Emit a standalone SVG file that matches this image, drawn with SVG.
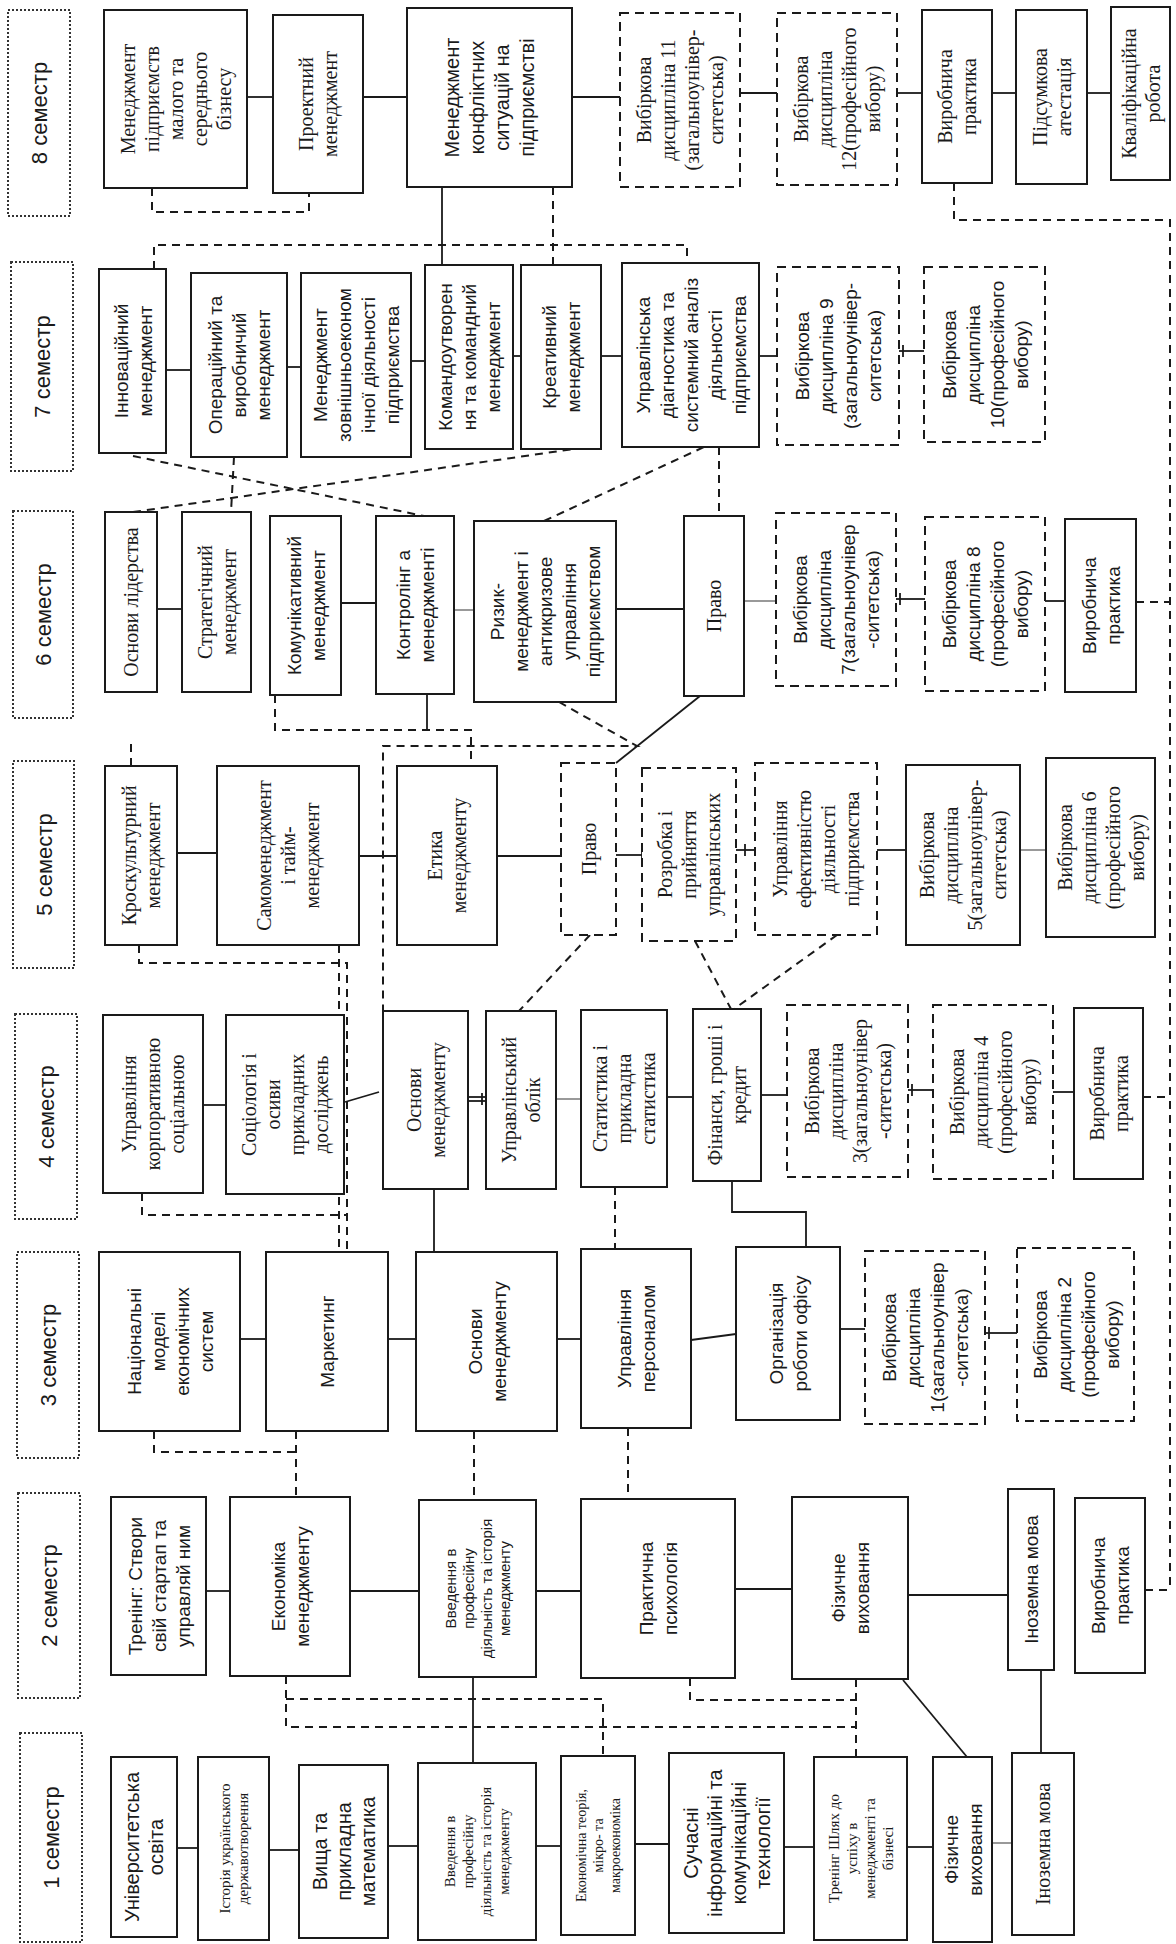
<svg xmlns="http://www.w3.org/2000/svg" width="1176" height="1944" viewBox="0 0 1176 1944">
<style>
.bg{fill:#fff}
.b{fill:#fff;stroke:#1a1a1a;stroke-width:2}
.d{fill:#fff;stroke:#1a1a1a;stroke-width:2;stroke-dasharray:9 6}
.h{fill:#fff;stroke:#333;stroke-width:2;stroke-dasharray:2 2}
.s{font-family:"Liberation Serif","Times New Roman",serif;font-size:20px;fill:#1a1a1a;text-anchor:middle}
.a{font-family:"Liberation Sans",Arial,sans-serif;font-size:19px;fill:#1a1a1a;text-anchor:middle}
.ht{font-family:"Liberation Sans",Arial,sans-serif;font-size:22px;fill:#1a1a1a;text-anchor:middle}
.c{fill:none;stroke:#1a1a1a;stroke-width:1.8}
.cg{fill:none;stroke:#777;stroke-width:1.5}
.cd{fill:none;stroke:#1a1a1a;stroke-width:2;stroke-dasharray:8 6}
</style>
<rect class="bg" x="0" y="0" width="1176" height="1944"/>

<g id="connectors">
<!-- semester 8 -->
<line class="c" x1="247" y1="97" x2="273" y2="97"/>
<line class="c" x1="363" y1="97" x2="407" y2="97"/>
<line class="c" x1="572" y1="97" x2="620" y2="97"/>
<line class="c" x1="740" y1="93" x2="777" y2="93"/>
<line class="c" x1="897" y1="93" x2="922" y2="93"/>
<line class="c" x1="992" y1="93" x2="1016" y2="93"/>
<line class="c" x1="1087" y1="93" x2="1111" y2="93"/>
<line class="c" x1="442" y1="187" x2="442" y2="265"/>
<polyline class="cd" points="152,188 152,212 309,212 309,193"/>
<line class="cd" x1="553" y1="187" x2="553" y2="265"/>
<polyline class="cd" points="154,269 154,245 687,245 687,263"/>
<polyline class="cd" points="954,183 954,220 1170,220 1170,1590"/>
<!-- semester 7 -->
<line class="c" x1="166" y1="370" x2="191" y2="370"/>
<line class="c" x1="287" y1="367" x2="301" y2="367"/>
<line class="c" x1="411" y1="361" x2="425" y2="361"/>
<line class="c" x1="513" y1="356" x2="521" y2="356"/>
<line class="c" x1="601" y1="356" x2="622" y2="356"/>
<line class="c" x1="759" y1="356" x2="777" y2="356"/>
<line class="c" x1="899" y1="351" x2="924" y2="351"/>
<line class="c" x1="903" y1="345" x2="903" y2="357"/>
<line class="cd" x1="133" y1="456" x2="424" y2="516"/>
<line class="cd" x1="133" y1="512" x2="574" y2="449"/>
<line class="cd" x1="234" y1="457" x2="231" y2="512"/>
<line class="cd" x1="544" y1="521" x2="704" y2="447"/>
<line class="cd" x1="719" y1="447" x2="719" y2="516"/>
<!-- semester 6 -->
<line class="c" x1="157" y1="609" x2="182" y2="609"/>
<line class="c" x1="341" y1="603" x2="376" y2="603"/>
<line class="cg" x1="454" y1="610" x2="474" y2="610"/>
<line class="c" x1="616" y1="609" x2="684" y2="609"/>
<line class="cg" x1="744" y1="601" x2="776" y2="601"/>
<line class="c" x1="896" y1="599" x2="925" y2="599"/>
<line class="c" x1="900" y1="593" x2="900" y2="605"/>
<line class="c" x1="1045" y1="601" x2="1065" y2="601"/>
<line class="cd" x1="1136" y1="602" x2="1170" y2="602"/>
<line class="c" x1="427" y1="695" x2="427" y2="730"/>
<line class="c" x1="700" y1="696" x2="616" y2="763"/>
<polyline class="cd" points="275,695 275,730 471,730 471,766"/>
<polyline class="cd" points="559,702 637,746 383,746 383,1011"/>
<line class="cd" x1="131" y1="766" x2="131" y2="742"/>
<!-- semester 5 -->
<line class="c" x1="177" y1="853" x2="217" y2="853"/>
<line class="c" x1="359" y1="856" x2="397" y2="856"/>
<line class="c" x1="497" y1="856" x2="561" y2="856"/>
<line class="c" x1="616" y1="855" x2="642" y2="855"/>
<line class="c" x1="642" y1="849" x2="642" y2="861"/>
<line class="c" x1="736" y1="850" x2="755" y2="850"/>
<line class="c" x1="745" y1="844" x2="745" y2="856"/>
<line class="c" x1="877" y1="850" x2="906" y2="850"/>
<line class="cg" x1="1020" y1="850" x2="1046" y2="850"/>
<polyline class="cd" points="139,945 139,963 347,963 347,1252"/>
<line class="cd" x1="339" y1="945" x2="339" y2="1252"/>
<polyline class="cd" points="142,1193 142,1215 347,1215"/>
<line class="cd" x1="590" y1="935" x2="519" y2="1011"/>
<line class="cd" x1="695" y1="941" x2="731" y2="1009"/>
<line class="cd" x1="837" y1="935" x2="734" y2="1009"/>
<!-- semester 4 -->
<line class="c" x1="203" y1="1105" x2="226" y2="1105"/>
<line class="c" x1="468" y1="1097" x2="486" y2="1097"/>
<line class="c" x1="468" y1="1101" x2="486" y2="1101"/>
<line class="c" x1="482" y1="1093" x2="482" y2="1105"/>
<line class="cg" x1="556" y1="1099" x2="581" y2="1099"/>
<line class="c" x1="667" y1="1097" x2="693" y2="1097"/>
<line class="c" x1="761" y1="1095" x2="787" y2="1095"/>
<line class="c" x1="908" y1="1090" x2="933" y2="1090"/>
<line class="c" x1="912" y1="1084" x2="912" y2="1096"/>
<line class="c" x1="1053" y1="1092" x2="1074" y2="1092"/>
<line class="cd" x1="1143" y1="1097" x2="1170" y2="1097"/>
<line class="c" x1="379" y1="1092" x2="345" y2="1102"/>
<line class="c" x1="434" y1="1189" x2="434" y2="1252"/>
<polyline class="c" points="732,1181 732,1212 806,1212 806,1247"/>
<line class="cd" x1="615" y1="1187" x2="615" y2="1249"/>
<!-- semester 3 -->
<line class="c" x1="240" y1="1339" x2="266" y2="1339"/>
<line class="c" x1="388" y1="1339" x2="416" y2="1339"/>
<line class="c" x1="557" y1="1339" x2="581" y2="1339"/>
<line class="c" x1="691" y1="1340" x2="736" y2="1334"/>
<line class="c" x1="840" y1="1329" x2="865" y2="1329"/>
<line class="c" x1="985" y1="1333" x2="1017" y2="1333"/>
<line class="c" x1="989" y1="1327" x2="989" y2="1339"/>
<polyline class="cd" points="154,1431 154,1452 296,1452"/>
<line class="cd" x1="296" y1="1431" x2="296" y2="1497"/>
<line class="cd" x1="474" y1="1431" x2="474" y2="1500"/>
<line class="cd" x1="628" y1="1428" x2="628" y2="1499"/>
<!-- semester 2 -->
<line class="c" x1="206" y1="1591" x2="230" y2="1591"/>
<line class="c" x1="350" y1="1591" x2="419" y2="1591"/>
<line class="c" x1="536" y1="1591" x2="581" y2="1591"/>
<line class="c" x1="735" y1="1589" x2="792" y2="1589"/>
<line class="c" x1="908" y1="1595" x2="1008" y2="1595"/>
<line class="cd" x1="1145" y1="1590" x2="1170" y2="1590"/>
<line class="c" x1="473" y1="1677" x2="473" y2="1763"/>
<line class="c" x1="903" y1="1680" x2="967" y2="1757"/>
<line class="c" x1="1041" y1="1670" x2="1041" y2="1753"/>
<polyline class="cd" points="286,1676 286,1727 856,1727"/>
<polyline class="cd" points="286,1699 603,1699 603,1756"/>
<polyline class="cd" points="690,1678 690,1700 856,1700"/>
<line class="cd" x1="856" y1="1679" x2="856" y2="1757"/>
<!-- semester 1 -->
<line class="c" x1="177" y1="1848" x2="198" y2="1848"/>
<line class="c" x1="269" y1="1850" x2="299" y2="1850"/>
<line class="c" x1="388" y1="1846" x2="418" y2="1846"/>
<line class="c" x1="536" y1="1846" x2="561" y2="1846"/>
<line class="c" x1="635" y1="1844" x2="669" y2="1844"/>
<line class="c" x1="784" y1="1847" x2="814" y2="1847"/>
<line class="c" x1="907" y1="1847" x2="933" y2="1847"/>
<line class="cg" x1="992" y1="1843" x2="1012" y2="1843"/>
</g>

<!-- semester headers -->
<g id="h8"><rect class="h" x="8" y="10" width="62" height="206"/><text class="ht" transform="translate(39 113) rotate(-90)" dy="8">8 семестр</text></g>
<g id="h7"><rect class="h" x="11" y="262" width="62" height="209"/><text class="ht" transform="translate(42 366.5) rotate(-90)" dy="8">7 семестр</text></g>
<g id="h6"><rect class="h" x="13" y="511" width="60" height="207"/><text class="ht" transform="translate(43 614.5) rotate(-90)" dy="8">6 семестр</text></g>
<g id="h5"><rect class="h" x="13" y="761" width="61" height="207"/><text class="ht" transform="translate(43.5 864.5) rotate(-90)" dy="8">5 семестр</text></g>
<g id="h4"><rect class="h" x="15" y="1014" width="62" height="205"/><text class="ht" transform="translate(46 1116.5) rotate(-90)" dy="8">4 семестр</text></g>
<g id="h3"><rect class="h" x="17" y="1252" width="62" height="206"/><text class="ht" transform="translate(48 1355) rotate(-90)" dy="8">3 семестр</text></g>
<g id="h2"><rect class="h" x="18" y="1493" width="62" height="205"/><text class="ht" transform="translate(49 1595.5) rotate(-90)" dy="8">2 семестр</text></g>
<g id="h1"><rect class="h" x="20" y="1733" width="62" height="209"/><text class="ht" transform="translate(51 1837.5) rotate(-90)" dy="8">1 семестр</text></g>

<!-- semester 8 -->
<g id="n8_1"><rect class="b" x="104" y="10" width="143" height="178"/><text class="s" transform="translate(175.5 99) rotate(-90)"><tspan x="0" dy="-41">Менеджмент</tspan><tspan x="0" dy="24">підприємств</tspan><tspan x="0" dy="24">малого та</tspan><tspan x="0" dy="24">середнього</tspan><tspan x="0" dy="24">бізнесу</tspan></text></g>
<g id="n8_2"><rect class="b" x="273" y="15" width="90" height="178"/><text class="s" transform="translate(318 104) rotate(-90)"><tspan x="0" dy="-5">Проектний</tspan><tspan x="0" dy="24">менеджмент</tspan></text></g>
<g id="n8_3"><rect class="b" x="407" y="8" width="165" height="179"/><text class="a" style="font-size:20px" transform="translate(489.5 97.5) rotate(-90)"><tspan x="0" dy="-31">Менеджмент</tspan><tspan x="0" dy="25">конфліктних</tspan><tspan x="0" dy="25">ситуацій на</tspan><tspan x="0" dy="25">підприємстві</tspan></text></g>
<g id="n8_4"><rect class="d" x="620" y="13" width="120" height="174"/><text class="s" transform="translate(680 100) rotate(-90)"><tspan x="0" dy="-29">Вибіркова</tspan><tspan x="0" dy="24">дисципліна 11</tspan><tspan x="0" dy="24">(загальноунівер-</tspan><tspan x="0" dy="24">ситетська)</tspan></text></g>
<g id="n8_5"><rect class="d" x="777" y="13" width="120" height="172"/><text class="s" transform="translate(837 99) rotate(-90)"><tspan x="0" dy="-29">Вибіркова</tspan><tspan x="0" dy="24">дисципліна</tspan><tspan x="0" dy="24">12(професійного</tspan><tspan x="0" dy="24">вибору)</tspan></text></g>
<g id="n8_6"><rect class="b" x="922" y="10" width="70" height="173"/><text class="s" transform="translate(957 96.5) rotate(-90)"><tspan x="0" dy="-5">Виробнича</tspan><tspan x="0" dy="24">практика</tspan></text></g>
<g id="n8_7"><rect class="b" x="1016" y="10" width="71" height="174"/><text class="s" transform="translate(1051.5 97) rotate(-90)"><tspan x="0" dy="-5">Підсумкова</tspan><tspan x="0" dy="24">атестація</tspan></text></g>
<g id="n8_8"><rect class="b" x="1111" y="7" width="59" height="173"/><text class="s" transform="translate(1140.5 93.5) rotate(-90)"><tspan x="0" dy="-5">Кваліфікаційна</tspan><tspan x="0" dy="24">робота</tspan></text></g>

<!-- semester 7 -->
<g id="n7_1"><rect class="b" x="99" y="269" width="67" height="184"/><text class="a" transform="translate(132.5 361) rotate(-90)"><tspan x="0" dy="-5">Інноваційний</tspan><tspan x="0" dy="24">менеджмент</tspan></text></g>
<g id="n7_2"><rect class="b" x="191" y="273" width="96" height="184"/><text class="a" transform="translate(239 365) rotate(-90)"><tspan x="0" dy="-17">Операційний та</tspan><tspan x="0" dy="24">виробничий</tspan><tspan x="0" dy="24">менеджмент</tspan></text></g>
<g id="n7_3"><rect class="b" x="301" y="273" width="110" height="184"/><text class="a" transform="translate(356 365) rotate(-90)"><tspan x="0" dy="-29">Менеджмент</tspan><tspan x="0" dy="24">зовнішньоеконом</tspan><tspan x="0" dy="24">ічної діяльності</tspan><tspan x="0" dy="24">підприємства</tspan></text></g>
<g id="n7_4"><rect class="b" x="425" y="265" width="88" height="184"/><text class="a" transform="translate(469 357) rotate(-90)"><tspan x="0" dy="-17">Командоутворен</tspan><tspan x="0" dy="24">ня та командний</tspan><tspan x="0" dy="24">менеджмент</tspan></text></g>
<g id="n7_5"><rect class="b" x="521" y="265" width="80" height="184"/><text class="a" transform="translate(561 357) rotate(-90)"><tspan x="0" dy="-5">Креативний</tspan><tspan x="0" dy="24">менеджмент</tspan></text></g>
<g id="n7_6"><rect class="b" x="622" y="263" width="137" height="184"/><text class="a" transform="translate(690.5 355) rotate(-90)"><tspan x="0" dy="-41">Управлінська</tspan><tspan x="0" dy="24">діагностика та</tspan><tspan x="0" dy="24">системний аналіз</tspan><tspan x="0" dy="24">діяльності</tspan><tspan x="0" dy="24">підприємства</tspan></text></g>
<g id="n7_7"><rect class="d" x="777" y="267" width="122" height="178"/><text class="a" transform="translate(838 356) rotate(-90)"><tspan x="0" dy="-29">Вибіркова</tspan><tspan x="0" dy="24">дисципліна 9</tspan><tspan x="0" dy="24">(загальноунівер-</tspan><tspan x="0" dy="24">ситетська)</tspan></text></g>
<g id="n7_8"><rect class="d" x="924" y="267" width="121" height="175"/><text class="a" transform="translate(984.5 354.5) rotate(-90)"><tspan x="0" dy="-29">Вибіркова</tspan><tspan x="0" dy="24">дисципліна</tspan><tspan x="0" dy="24">10(професійного</tspan><tspan x="0" dy="24">вибору)</tspan></text></g>

<!-- semester 6 -->
<g id="n6_1"><rect class="b" x="105" y="512" width="52" height="180"/><text class="s" transform="translate(131 602) rotate(-90)" dy="7">Основи лідерства</text></g>
<g id="n6_2"><rect class="b" x="182" y="512" width="69" height="180"/><text class="s" transform="translate(216.5 602) rotate(-90)"><tspan x="0" dy="-5">Стратегічний</tspan><tspan x="0" dy="24">менеджмент</tspan></text></g>
<g id="n6_3"><rect class="b" x="270" y="516" width="71" height="179"/><text class="a" transform="translate(305.5 605.5) rotate(-90)"><tspan x="0" dy="-5">Комунікативний</tspan><tspan x="0" dy="24">менеджмент</tspan></text></g>
<g id="n6_4"><rect class="b" x="376" y="516" width="78" height="178"/><text class="a" transform="translate(415 605) rotate(-90)"><tspan x="0" dy="-5">Контролінг а</tspan><tspan x="0" dy="24">менеджменті</tspan></text></g>
<g id="n6_5"><rect class="b" x="474" y="521" width="142" height="181"/><text class="a" transform="translate(545 611.5) rotate(-90)"><tspan x="0" dy="-41">Ризик-</tspan><tspan x="0" dy="24">менеджмент і</tspan><tspan x="0" dy="24">антикризове</tspan><tspan x="0" dy="24">управління</tspan><tspan x="0" dy="24">підприємством</tspan></text></g>
<g id="n6_6"><rect class="b" x="684" y="516" width="60" height="180"/><text class="s" transform="translate(714 606) rotate(-90)" dy="7">Право</text></g>
<g id="n6_7"><rect class="d" x="776" y="513" width="120" height="173"/><text class="a" transform="translate(836 599.5) rotate(-90)"><tspan x="0" dy="-29">Вибіркова</tspan><tspan x="0" dy="24">дисципліна</tspan><tspan x="0" dy="24">7(загальноунівер</tspan><tspan x="0" dy="24">-ситетська)</tspan></text></g>
<g id="n6_8"><rect class="d" x="925" y="517" width="120" height="174"/><text class="a" transform="translate(985 604) rotate(-90)"><tspan x="0" dy="-29">Вибіркова</tspan><tspan x="0" dy="24">дисципліна 8</tspan><tspan x="0" dy="24">(професійного</tspan><tspan x="0" dy="24">вибору)</tspan></text></g>
<g id="n6_9"><rect class="b" x="1065" y="519" width="71" height="173"/><text class="a" transform="translate(1100.5 605.5) rotate(-90)"><tspan x="0" dy="-5">Виробнича</tspan><tspan x="0" dy="24">практика</tspan></text></g>

<!-- semester 5 -->
<g id="n5_1"><rect class="b" x="105" y="766" width="72" height="179"/><text class="s" transform="translate(141 855.5) rotate(-90)"><tspan x="0" dy="-5">Кроскультурний</tspan><tspan x="0" dy="24">менеджмент</tspan></text></g>
<g id="n5_2"><rect class="b" x="217" y="766" width="142" height="179"/><text class="s" transform="translate(288 855.5) rotate(-90)"><tspan x="0" dy="-17">Самоменеджмент</tspan><tspan x="0" dy="24">і тайм-</tspan><tspan x="0" dy="24">менеджмент</tspan></text></g>
<g id="n5_3"><rect class="b" x="397" y="766" width="100" height="179"/><text class="s" transform="translate(447 855.5) rotate(-90)"><tspan x="0" dy="-5">Етика</tspan><tspan x="0" dy="24">менеджменту</tspan></text></g>
<g id="n5_4"><rect class="d" x="561" y="763" width="55" height="172"/><text class="s" transform="translate(588.5 849) rotate(-90)" dy="7">Право</text></g>
<g id="n5_5"><rect class="d" x="642" y="768" width="94" height="173"/><text class="s" transform="translate(689 854.5) rotate(-90)"><tspan x="0" dy="-17">Розробка і</tspan><tspan x="0" dy="24">прийняття</tspan><tspan x="0" dy="24">управлінських</tspan></text></g>
<g id="n5_6"><rect class="d" x="755" y="763" width="122" height="172"/><text class="s" transform="translate(816 849) rotate(-90)"><tspan x="0" dy="-29">Управління</tspan><tspan x="0" dy="24">ефективністю</tspan><tspan x="0" dy="24">діяльності</tspan><tspan x="0" dy="24">підприємства</tspan></text></g>
<g id="n5_7"><rect class="b" x="906" y="765" width="114" height="180"/><text class="s" transform="translate(963 855) rotate(-90)"><tspan x="0" dy="-29">Вибіркова</tspan><tspan x="0" dy="24">дисципліна</tspan><tspan x="0" dy="24">5(загальноунівер-</tspan><tspan x="0" dy="24">ситетська)</tspan></text></g>
<g id="n5_8"><rect class="b" x="1046" y="758" width="109" height="179"/><text class="s" transform="translate(1100.5 847.5) rotate(-90)"><tspan x="0" dy="-29">Вибіркова</tspan><tspan x="0" dy="24">дисципліна 6</tspan><tspan x="0" dy="24">(професійного</tspan><tspan x="0" dy="24">вибору)</tspan></text></g>

<!-- semester 4 -->
<g id="n4_1"><rect class="b" x="103" y="1015" width="100" height="178"/><text class="s" transform="translate(153 1104) rotate(-90)"><tspan x="0" dy="-17">Управління</tspan><tspan x="0" dy="24">корпоративною</tspan><tspan x="0" dy="24">соціальною</tspan></text></g>
<g id="n4_2"><rect class="b" x="226" y="1015" width="118" height="179"/><text class="s" transform="translate(285 1104.5) rotate(-90)"><tspan x="0" dy="-29">Соціологія і</tspan><tspan x="0" dy="24">осиви</tspan><tspan x="0" dy="24">прикладних</tspan><tspan x="0" dy="24">досліджень</tspan></text></g>
<g id="n4_3"><rect class="b" x="383" y="1011" width="85" height="178"/><text class="s" transform="translate(425.5 1100) rotate(-90)"><tspan x="0" dy="-5">Основи</tspan><tspan x="0" dy="24">менеджменту</tspan></text></g>
<g id="n4_4"><rect class="b" x="486" y="1011" width="70" height="178"/><text class="s" transform="translate(521 1100) rotate(-90)"><tspan x="0" dy="-5">Управлінський</tspan><tspan x="0" dy="24">облік</tspan></text></g>
<g id="n4_5"><rect class="b" x="581" y="1010" width="86" height="177"/><text class="s" transform="translate(624 1098.5) rotate(-90)"><tspan x="0" dy="-17">Статистика і</tspan><tspan x="0" dy="24">прикладна</tspan><tspan x="0" dy="24">статистика</tspan></text></g>
<g id="n4_6"><rect class="b" x="693" y="1009" width="68" height="172"/><text class="s" transform="translate(727 1095) rotate(-90)"><tspan x="0" dy="-5">Фінанси, гроші і</tspan><tspan x="0" dy="24">кредит</tspan></text></g>
<g id="n4_7"><rect class="d" x="787" y="1005" width="121" height="172"/><text class="s" transform="translate(847.5 1091) rotate(-90)"><tspan x="0" dy="-29">Вибіркова</tspan><tspan x="0" dy="24">дисципліна</tspan><tspan x="0" dy="24">3(загальноунівер</tspan><tspan x="0" dy="24">-ситетська)</tspan></text></g>
<g id="n4_8"><rect class="d" x="933" y="1005" width="120" height="174"/><text class="s" transform="translate(993 1092) rotate(-90)"><tspan x="0" dy="-29">Вибіркова</tspan><tspan x="0" dy="24">дисципліна 4</tspan><tspan x="0" dy="24">(професійного</tspan><tspan x="0" dy="24">вибору)</tspan></text></g>
<g id="n4_9"><rect class="b" x="1074" y="1008" width="69" height="171"/><text class="s" transform="translate(1108.5 1093.5) rotate(-90)"><tspan x="0" dy="-5">Виробнича</tspan><tspan x="0" dy="24">практика</tspan></text></g>

<!-- semester 3 -->
<g id="n3_1"><rect class="b" x="99" y="1252" width="141" height="179"/><text class="a" transform="translate(169.5 1341.5) rotate(-90)"><tspan x="0" dy="-29">Національні</tspan><tspan x="0" dy="24">моделі</tspan><tspan x="0" dy="24">економічних</tspan><tspan x="0" dy="24">систем</tspan></text></g>
<g id="n3_2"><rect class="b" x="266" y="1252" width="122" height="179"/><text class="a" transform="translate(327 1341.5) rotate(-90)" dy="7">Маркетинг</text></g>
<g id="n3_3"><rect class="b" x="416" y="1252" width="141" height="179"/><text class="a" transform="translate(486.5 1341.5) rotate(-90)"><tspan x="0" dy="-5">Основи</tspan><tspan x="0" dy="24">менеджменту</tspan></text></g>
<g id="n3_4"><rect class="b" x="581" y="1249" width="110" height="179"/><text class="a" transform="translate(636 1338.5) rotate(-90)"><tspan x="0" dy="-5">Управління</tspan><tspan x="0" dy="24">персоналом</tspan></text></g>
<g id="n3_5"><rect class="b" x="736" y="1247" width="104" height="173"/><text class="a" transform="translate(788 1333.5) rotate(-90)"><tspan x="0" dy="-5">Організація</tspan><tspan x="0" dy="24">роботи офісу</tspan></text></g>
<g id="n3_6"><rect class="d" x="865" y="1251" width="120" height="173"/><text class="a" transform="translate(925 1337.5) rotate(-90)"><tspan x="0" dy="-29">Вибіркова</tspan><tspan x="0" dy="24">дисципліна</tspan><tspan x="0" dy="24">1(загальноунівер</tspan><tspan x="0" dy="24">-ситетська)</tspan></text></g>
<g id="n3_7"><rect class="d" x="1017" y="1248" width="117" height="173"/><text class="a" transform="translate(1075.5 1334.5) rotate(-90)"><tspan x="0" dy="-29">Вибіркова</tspan><tspan x="0" dy="24">дисципліна 2</tspan><tspan x="0" dy="24">(професійного</tspan><tspan x="0" dy="24">вибору)</tspan></text></g>

<!-- semester 2 -->
<g id="n2_1"><rect class="b" x="111" y="1497" width="95" height="178"/><text class="a" transform="translate(158.5 1586) rotate(-90)"><tspan x="0" dy="-17">Тренінг: Створи</tspan><tspan x="0" dy="24">свій стартап та</tspan><tspan x="0" dy="24">управляй ним</tspan></text></g>
<g id="n2_2"><rect class="b" x="230" y="1497" width="120" height="179"/><text class="a" transform="translate(290 1586.5) rotate(-90)"><tspan x="0" dy="-5">Економіка</tspan><tspan x="0" dy="24">менеджменту</tspan></text></g>
<g id="n2_3"><rect class="b" x="419" y="1500" width="117" height="177"/><text class="a" style="font-size:15px" transform="translate(477.5 1588.5) rotate(-90)"><tspan x="0" dy="-22">Введення в</tspan><tspan x="0" dy="18">професійну</tspan><tspan x="0" dy="18">діяльність та історія</tspan><tspan x="0" dy="18">менеджменту</tspan></text></g>
<g id="n2_4"><rect class="b" x="581" y="1499" width="154" height="179"/><text class="a" transform="translate(658 1588.5) rotate(-90)"><tspan x="0" dy="-5">Практична</tspan><tspan x="0" dy="24">психологія</tspan></text></g>
<g id="n2_5"><rect class="b" x="792" y="1497" width="116" height="182"/><text class="a" transform="translate(850 1588) rotate(-90)"><tspan x="0" dy="-5">Фізичне</tspan><tspan x="0" dy="24">виховання</tspan></text></g>
<g id="n2_6"><rect class="b" x="1008" y="1489" width="46" height="181"/><text class="a" transform="translate(1031 1579.5) rotate(-90)" dy="7">Іноземна мова</text></g>
<g id="n2_7"><rect class="b" x="1075" y="1498" width="70" height="175"/><text class="a" transform="translate(1110 1585.5) rotate(-90)"><tspan x="0" dy="-5">Виробнича</tspan><tspan x="0" dy="24">практика</tspan></text></g>

<!-- semester 1 -->
<g id="n1_1"><rect class="b" x="111" y="1757" width="66" height="180"/><text class="a" style="font-size:20px" transform="translate(144 1847) rotate(-90)"><tspan x="0" dy="-5">Університетська</tspan><tspan x="0" dy="24">освіта</tspan></text></g>
<g id="n1_2"><rect class="b" x="198" y="1757" width="71" height="183"/><text class="s" style="font-size:15px" transform="translate(233.5 1848.5) rotate(-90)"><tspan x="0" dy="-4">Історія українського</tspan><tspan x="0" dy="18">державотворення</tspan></text></g>
<g id="n1_3"><rect class="b" x="299" y="1765" width="89" height="173"/><text class="a" style="font-size:20px" transform="translate(343.5 1851.5) rotate(-90)"><tspan x="0" dy="-17">Вища та</tspan><tspan x="0" dy="24">прикладна</tspan><tspan x="0" dy="24">математика</tspan></text></g>
<g id="n1_4"><rect class="b" x="418" y="1763" width="118" height="177"/><text class="s" style="font-size:15px" transform="translate(477 1851.5) rotate(-90)"><tspan x="0" dy="-22">Введення в</tspan><tspan x="0" dy="18">професійну</tspan><tspan x="0" dy="18">діяльність та історія</tspan><tspan x="0" dy="18">менеджменту</tspan></text></g>
<g id="n1_5"><rect class="b" x="561" y="1756" width="74" height="179"/><text class="s" style="font-size:14px" transform="translate(598 1845.5) rotate(-90)"><tspan x="0" dy="-12">Економічна теорія,</tspan><tspan x="0" dy="17">мікро- та</tspan><tspan x="0" dy="17">макроекономіка</tspan></text></g>
<g id="n1_6"><rect class="b" x="669" y="1753" width="115" height="180"/><text class="a" style="font-size:20px" transform="translate(726.5 1843) rotate(-90)"><tspan x="0" dy="-29">Сучасні</tspan><tspan x="0" dy="24">інформаційні та</tspan><tspan x="0" dy="24">комунікаційні</tspan><tspan x="0" dy="24">технології</tspan></text></g>
<g id="n1_7"><rect class="b" x="814" y="1757" width="93" height="183"/><text class="s" style="font-size:15px" transform="translate(860.5 1848.5) rotate(-90)"><tspan x="0" dy="-22">Тренінг Шлях до</tspan><tspan x="0" dy="18">успіху в</tspan><tspan x="0" dy="18">менеджменті та</tspan><tspan x="0" dy="18">бізнесі</tspan></text></g>
<g id="n1_8"><rect class="b" x="933" y="1757" width="59" height="185"/><text class="a" transform="translate(962.5 1849.5) rotate(-90)"><tspan x="0" dy="-5">Фізичне</tspan><tspan x="0" dy="24">виховання</tspan></text></g>
<g id="n1_9"><rect class="b" x="1012" y="1753" width="62" height="182"/><text class="s" transform="translate(1043 1844) rotate(-90)" dy="7">Іноземна мова</text></g>
</svg>
